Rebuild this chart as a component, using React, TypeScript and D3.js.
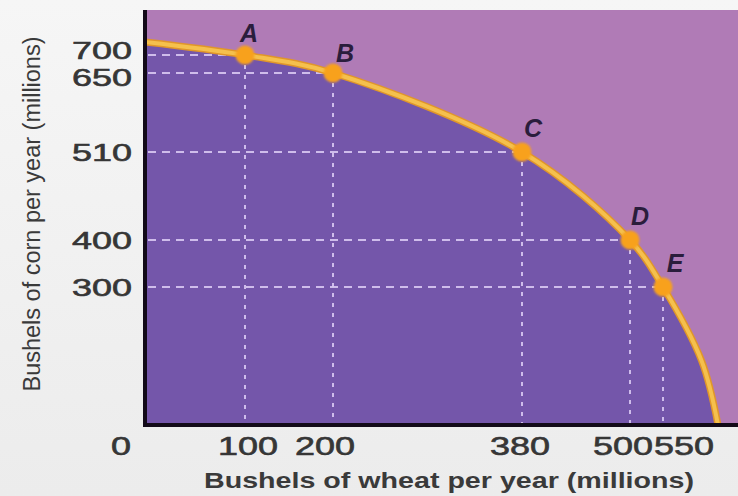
import React from "react";
import * as d3 from "d3";

// Production possibilities for wheat and corn (millions of bushels per year)
const pointLabels = ["A", "B", "C", "D", "E"];
const pointWheat = [100, 200, 380, 500, 550];
const pointCorn = [700, 650, 510, 400, 300];

// Frontier traced through the labelled combinations plus both intercepts
const frontierWheat = [0, 100, 200, 380, 500, 550, 585, 600];
const frontierCorn = [730, 700, 650, 510, 400, 300, 140, 0];

const wheatTicks = [0, 100, 200, 380, 500, 550];
const cornTicks = [300, 400, 510, 650, 700];

const W = 738;
const H = 496;
const plotLeft = 145;
const plotBottom = 425;
const plotTop = 10;
const plotRight = 738;

// The axes are drawn schematically, so each labelled value gets its own stop.
const x = d3
  .scaleLinear()
  .domain([0, 100, 200, 380, 500, 550, 600])
  .range([plotLeft, 245, 333, 522, 630, 663, 718]);

const y = d3
  .scaleLinear()
  .domain([0, 300, 400, 510, 650, 700, 730])
  .range([plotBottom, 287, 240, 152, 73, 55, 42]);

// Small nudges keep the crowded tick labels apart
const xTickNudge: Record<number, number> = { 0: -24, 100: 3, 200: -8, 380: -2, 500: -7, 550: 21 };
const yTickNudge: Record<number, number> = { 700: -5, 650: 4 };
const labelOffset: Record<string, [number, number]> = {
  A: [4, -13],
  B: [12, -11],
  C: [11, -15],
  D: [10, -15],
  E: [12, -15],
};

// Wide figures for the tick labels
const digitWidth = 20;

export default function App() {
  const frontier = frontierWheat.map((w, i) => [w, frontierCorn[i]] as [number, number]);
  const curve = d3.curveCatmullRom.alpha(0.5);
  const line = d3
    .line<[number, number]>()
    .x((d) => x(d[0]))
    .y((d) => y(d[1]))
    .curve(curve);
  const area = d3
    .area<[number, number]>()
    .x((d) => x(d[0]))
    .y0(plotBottom)
    .y1((d) => y(d[1]))
    .curve(curve);

  const font = "'Liberation Sans', Arial, Helvetica, sans-serif";

  return (
    <svg
      width={W}
      height={H}
      style={{ position: "absolute", left: 0, top: 0, display: "block" }}
      fontFamily={font}
    >
      <defs>
        <filter id="soft" x="-50%" y="-50%" width="200%" height="200%">
          <feGaussianBlur stdDeviation="0.9" />
        </filter>
        <linearGradient id="bg" x1="0" y1="0" x2="0" y2="1">
          <stop offset="0" stopColor="#f6f6f6" />
          <stop offset="1" stopColor="#ececec" />
        </linearGradient>
      </defs>
      <rect x={0} y={0} width={W} height={H} fill="url(#bg)" />

      {/* attainable region vs. unattainable region */}
      <rect
        x={plotLeft}
        y={plotTop}
        width={plotRight - plotLeft}
        height={plotBottom - plotTop}
        fill="#b07bb6"
      />
      <path d={area(frontier) ?? ""} fill="#7456aa" />

      {/* guide lines from each combination to the axes */}
      {pointWheat.map((w, i) => (
        <g key={`g${i}`} stroke="#d9c9f3" strokeWidth={2} opacity={0.9}>
          <line
            x1={plotLeft + 3}
            x2={x(w)}
            y1={y(pointCorn[i])}
            y2={y(pointCorn[i])}
            strokeDasharray="8 6"
          />
          <line
            x1={x(w)}
            x2={x(w)}
            y1={y(pointCorn[i])}
            y2={plotBottom - 2}
            strokeDasharray="4 6"
          />
        </g>
      ))}

      {/* frontier */}
      <path d={line(frontier) ?? ""} fill="none" stroke="#e0962a" strokeWidth={7} />
      <path d={line(frontier) ?? ""} fill="none" stroke="#f5c04d" strokeWidth={4} />

      {/* axes */}
      <line x1={plotLeft} x2={plotLeft} y1={plotTop} y2={plotBottom + 2} stroke="#120a18" strokeWidth={4} />
      <line x1={plotLeft - 2} x2={plotRight} y1={plotBottom} y2={plotBottom} stroke="#120a18" strokeWidth={4} />

      {/* combinations */}
      {pointWheat.map((w, i) => (
        <circle
          key={`p${i}`}
          cx={x(w)}
          cy={y(pointCorn[i])}
          r={9.5}
          fill="#f8a11d"
          filter="url(#soft)"
        />
      ))}
      {pointLabels.map((lab, i) => (
        <text
          key={`l${i}`}
          x={x(pointWheat[i]) + labelOffset[lab][0]}
          y={y(pointCorn[i]) + labelOffset[lab][1]}
          textAnchor="middle"
          fontSize={25}
          fontStyle="italic"
          fontWeight="bold"
          fill="#2a1d3c"
        >
          {lab}
        </text>
      ))}

      {/* tick labels */}
      <g fill="#363636" stroke="#363636" strokeWidth={0.6}>
        {cornTicks.map((c) => (
          <text
            key={`yt${c}`}
            x={132}
            y={y(c) + (yTickNudge[c] ?? 0)}
            dy="0.36em"
            textAnchor="end"
            fontSize={24}
            textLength={String(c).length * digitWidth}
            lengthAdjust="spacingAndGlyphs"
          >
            {c}
          </text>
        ))}
        {wheatTicks.map((w) => (
          <text
            key={`xt${w}`}
            x={x(w) + (xTickNudge[w] ?? 0)}
            y={455}
            textAnchor="middle"
            fontSize={25}
            textLength={String(w).length * digitWidth}
            lengthAdjust="spacingAndGlyphs"
          >
            {w}
          </text>
        ))}
      </g>

      {/* axis titles */}
      <text
        x={449}
        y={488}
        textAnchor="middle"
        fontSize={22}
        fontWeight="bold"
        fill="#3a3a3a"
        textLength={490}
        lengthAdjust="spacingAndGlyphs"
      >
        Bushels of wheat per year (millions)
      </text>
      <text
        transform="translate(40,214) rotate(-90)"
        textAnchor="middle"
        fontSize={23}
        fill="#3a3a3a"
        textLength={355}
        lengthAdjust="spacingAndGlyphs"
      >
        Bushels of corn per year (millions)
      </text>
    </svg>
  );
}
